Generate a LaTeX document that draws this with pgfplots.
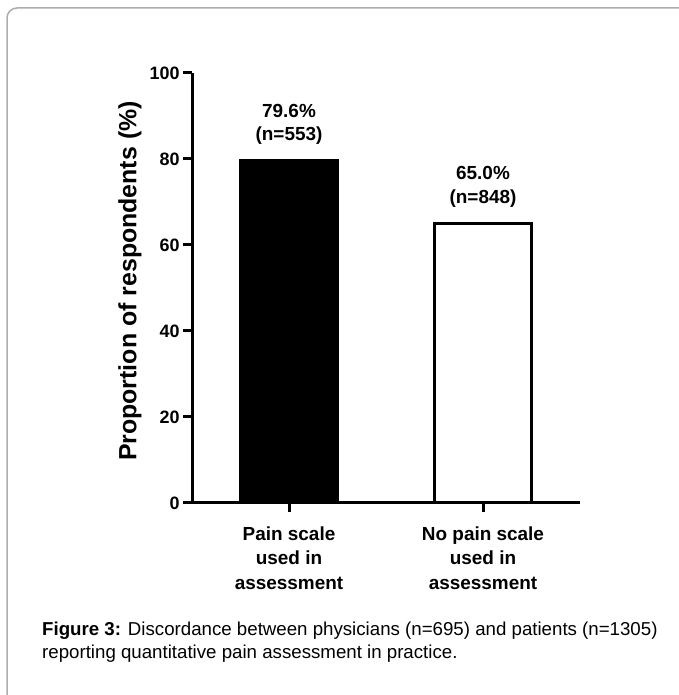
\documentclass[border=0pt]{standalone}
\usepackage{fontspec}
\setmainfont{Liberation Sans}
\usepackage{pgfplots}
\pgfplotsset{compat=1.18}
\begin{document}
\begin{tikzpicture}[x=1bp,y=1bp]
	\path[use as bounding box] (0,0) rectangle (679,695);
	\fill[white] (0,0) rectangle (679,695);
	\draw[color=black!32, line width=1.5bp, rounded corners=10bp] (7,-20) -- (7,687) -- (700,687);

	\begin{axis}[
			at={(192bp,192bp)},
			anchor=south west,
			scale only axis,
			width=388bp,
			height=430bp,
			xmin=-0.5, xmax=1.5,
			ymin=0, ymax=100,
			axis x line=bottom,
			axis y line=left,
			axis line style={-, line width=3bp, black},
			tick align=outside,
			major tick length=9bp,
			tick style={line width=3bp, black},
			xtick={0,1},
			xticklabels={Pain scale\\used in\\assessment, No pain scale\\used in\\assessment},
			xticklabel style={align=center, font=\fontsize{19}{24.5}\selectfont\bfseries, yshift=-11bp},
			ytick={0,20,...,100},
			yticklabel style={font=\fontsize{18}{20}\selectfont\bfseries},
			/pgf/number format/assume math mode=true,
			ylabel={Proportion of respondents (\%)},
			ylabel style={font=\fontsize{25}{30}\selectfont\bfseries, at={(axis description cs:-0.16,0.516)}, anchor=center},
			ybar,
			bar width=97bp,
			bar shift=0pt,
			clip=false,
			every node near coord/.append style={align=center, font=\fontsize{19}{24}\selectfont\bfseries, anchor=south, yshift=11bp},
		]

		\addplot [
			fill=black,
			draw=black,
			line width=3bp,
			nodes near coords={79.6\%\\(n=553)}
		]
		coordinates {(0, 79.6)};

		\addplot [
			fill=white,
			draw=black,
			line width=3bp,
			nodes near coords={65.0\%\\(n=848)}
		]
		coordinates {(1, 65.0)};

	\end{axis}

	\node[anchor=base west, inner sep=0pt, font=\fontsize{18.75}{23}\selectfont] at (42,59)
		{\textbf{Figure 3:} Discordance between physicians (n=695) and patients (n=1305)};
	\node[anchor=base west, inner sep=0pt, font=\fontsize{18.75}{23}\selectfont] at (42,36)
		{reporting quantitative pain assessment in practice.};
\end{tikzpicture}
\end{document}
